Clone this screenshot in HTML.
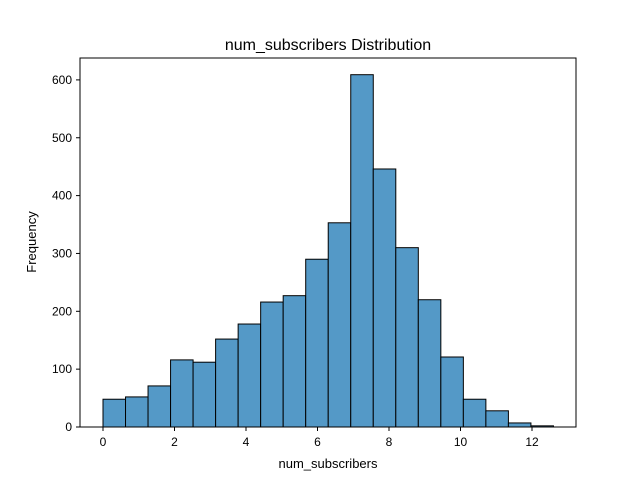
<!DOCTYPE html>
<html><head><meta charset="utf-8"><style>
body{margin:0;background:#fff;}
svg{display:block;font-family:"Liberation Sans","DejaVu Sans",sans-serif;}
</style></head><body>
<svg id="chart" width="640" height="480">
<rect x="0" y="0" width="640" height="480" fill="#fff"/>
<text x="328" y="50" font-size="16" text-anchor="middle">num_subscribers Distribution</text>
<g id="bars"></g>
<rect x="80" y="58" width="496" height="369" fill="none" stroke="#000" stroke-width="1"/>
<g id="axes"></g>
<text x="328" y="468" font-size="13" text-anchor="middle">num_subscribers</text>
<text x="36" y="242" font-size="13" text-anchor="middle" transform="rotate(-90 36 242)">Frequency</text>
</svg>
<script>
const binStart = 0;
const binWidth = 0.63;
const counts = [48,52,71,116,112,152,178,216,227,290,353,609,446,310,220,121,48,28,7,2];
const xTicks = [0,2,4,6,8,10,12];
const yTicks = [0,100,200,300,400,500,600];
const NS='http://www.w3.org/2000/svg';
const xS = v => 103 + v*35.75;
const yS = v => 427 - v*0.5785;
const bars = document.getElementById('bars');
counts.forEach((c,i)=>{
  const r=document.createElementNS(NS,'rect');
  const x0=xS(binStart+i*binWidth), x1=xS(binStart+(i+1)*binWidth);
  r.setAttribute('x',x0);r.setAttribute('width',x1-x0);
  r.setAttribute('y',yS(c));r.setAttribute('height',yS(0)-yS(c));
  r.setAttribute('fill','#5499c7');r.setAttribute('stroke','#000');r.setAttribute('stroke-width','1');
  
  
  bars.appendChild(r);
});
const axes=document.getElementById('axes');
xTicks.forEach(t=>{
  const l=document.createElementNS(NS,'line');
  l.setAttribute('x1',xS(t));l.setAttribute('x2',xS(t));l.setAttribute('y1',427);l.setAttribute('y2',431);l.setAttribute('stroke','#000');
  
  
  axes.appendChild(l);
  const tx=document.createElementNS(NS,'text');
  tx.setAttribute('x',xS(t));tx.setAttribute('y',446);tx.setAttribute('font-size','12');tx.setAttribute('text-anchor','middle');
  tx.textContent=t;
  
  
  axes.appendChild(tx);
});
yTicks.forEach(t=>{
  const l=document.createElementNS(NS,'line');
  l.setAttribute('x1',76);l.setAttribute('x2',80);l.setAttribute('y1',yS(t));l.setAttribute('y2',yS(t));l.setAttribute('stroke','#000');
  
  
  axes.appendChild(l);
  const tx=document.createElementNS(NS,'text');
  tx.setAttribute('x',72);tx.setAttribute('y',yS(t)+4);tx.setAttribute('font-size','12');tx.setAttribute('text-anchor','end');
  tx.textContent=t;
  
  
  axes.appendChild(tx);
});
</script>
</body></html>
